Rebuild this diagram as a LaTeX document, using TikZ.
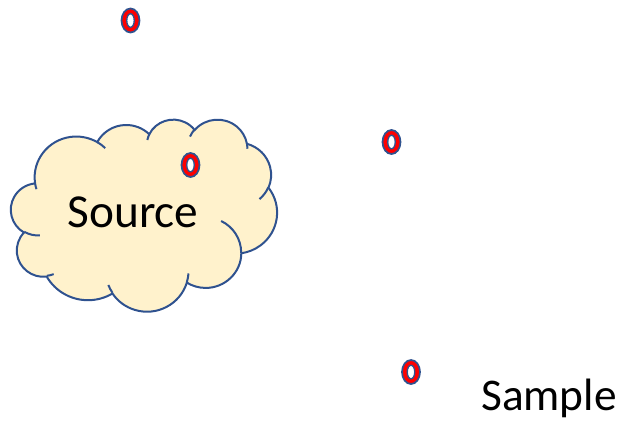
\documentclass[tikz,border=0pt]{standalone}
\usepackage{fontspec}
\setmainfont{Carlito}
\definecolor{shapeblue}{HTML}{2F528F}
\definecolor{cloudfill}{HTML}{FFF2CC}
\definecolor{newred}{HTML}{FF0000}
\usetikzlibrary{shapes.geometric, positioning}

% one puff of the cloud outline: x radius, y radius, start and sweep (visual angles)
\newcommand\puff[4]{arc[x radius = #1, y radius = #2,
	start angle = {atan2(#1*sin(#3), #2*cos(#3))},
	delta angle = {Mod(atan2(#1*sin(#3+#4), #2*cos(#3+#4)) - atan2(#1*sin(#3), #2*cos(#3)), 360)}]}

\tikzset{
	ring/.style = {ellipse, draw = shapeblue, fill = newred, line width = 1.3pt, inner sep = 0pt, minimum width = 13.5pt, minimum height = 18pt,
		path picture = {\draw[shapeblue, fill = white, line width = 1pt] (path picture bounding box.center) ellipse[x radius = 2.8pt, y radius = 5.1pt];}},
	word/.style = {font = \fontsize{34}{40}\selectfont, anchor = base, inner sep = 0pt}
}

\begin{document}
\begin{tikzpicture}[x = 0.75pt, y = -0.75pt]
	\useasboundingbox (0, 0) rectangle (631, 426);
	% the cloud, on a 432 x 432 grid
	\begin{scope}[xshift = 8.25pt, yshift = -89.25pt, x = 0.46181pt, y = -0.33333pt, line width = 1.5pt, draw = shapeblue]
		\draw[fill = cloudfill] (39.00, 143.70) \puff{67.53}{91.90}{-190.4875}{123.7805} \puff{53.33}{72.67}{-144.1024}{89.9452}
			\puff{43.65}{59.45}{-145.8079}{99.7230} \puff{48.57}{65.95}{-130.9861}{117.2417}
			\puff{53.33}{72.73}{-78.7089}{109.0269} \puff{67.75}{92.20}{-46.2673}{130.2690}
			\puff{57.85}{78.67}{0.6250}{114.0333} \puff{67.52}{92.15}{22.4516}{115.1726}
			\puff{77.20}{105.43}{66.2426}{75.7110} \puff{43.60}{59.18}{-274.9421}{146.7356}
			\puff{43.45}{59.45}{-246.8285}{152.5189} -- cycle;
		\draw (46.93, 261.77) \puff{43.45}{59.45}{86.7420}{26.4295}
			(69.28, 348.99) \puff{43.60}{59.18}{73.6105}{11.4475}
			(164.78, 390.90) \puff{67.52}{92.15}{137.6242}{14.0811}
			(288.27, 347.51) \puff{67.52}{92.15}{6.4533}{15.9984}
			(341.29, 229.54) \puff{57.85}{78.67}{-70.2924}{70.9174}
			(417.98, 153.54) \puff{53.33}{72.73}{30.3180}{27.7515}
			(383.24, 54.26) \puff{48.57}{65.95}{-13.7443}{14.8589}
			(290.78, 39.52) \puff{48.57}{65.95}{-149.1815}{18.1954}
			(221.41, 47.20) \puff{43.65}{59.45}{-163.4943}{17.6864}
			(140.00, 51.92) \puff{67.53}{91.90}{-66.7070}{12.3194}
			(41.27, 157.89) \puff{67.53}{91.90}{157.6544}{11.8582};
	\end{scope}
	\node[word, font = \fontsize{35.5}{42}\selectfont] at (133, 227) (source) {Source};
	\node[word] at (549, 410) (sample) {Sample};
	\node[ring] at (130.5, 20.5) (r1) {};
	\node[ring] at (190.5, 165) (r2) {};
	\node[ring] at (391.5, 142) (r3) {};
	\node[ring] at (411, 372) (r4) {};
\end{tikzpicture}
\end{document}
